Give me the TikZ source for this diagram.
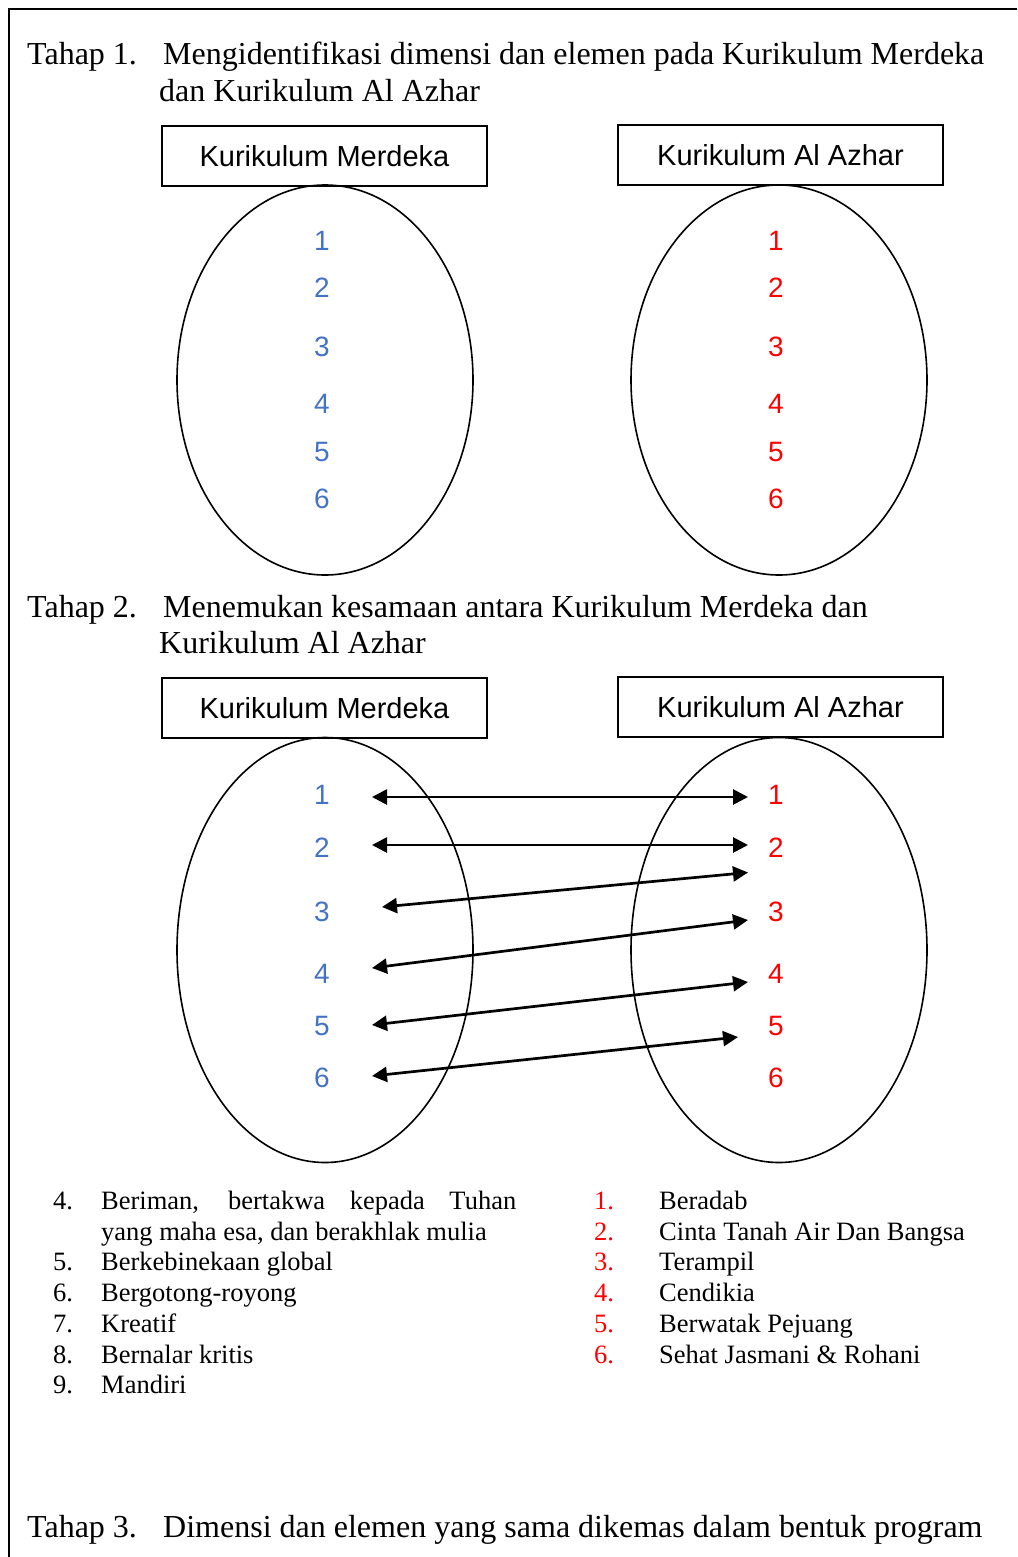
\documentclass[tikz,border=0pt]{standalone}
\usepackage{fontspec}
\setmainfont{Liberation Serif}
\newfontfamily\arial{Liberation Sans}
\usetikzlibrary{shapes.geometric,arrows.meta}
\definecolor{numblue}{HTML}{4472C4}
\definecolor{numred}{HTML}{FF0000}
\begin{document}
\begin{tikzpicture}[x=1pt,y=-1pt,
  head/.style={font=\fontsize{32}{37}\selectfont, anchor=base west, inner sep=0},
  lst/.style={font=\fontsize{26.5}{30}\selectfont, anchor=base west, inner sep=0},
  kbox/.style={draw, line width=1.6pt, minimum width=325pt, minimum height=60pt, inner sep=0, font=\arial\fontsize{29}{34}\selectfont},
  ell/.style={draw, ellipse, line width=1.6pt, minimum width=296pt, inner sep=0},
  bnum/.style={font=\arial\fontsize{28}{32}\selectfont, text=numblue, inner sep=0},
  rnum/.style={font=\arial\fontsize{28}{32}\selectfont, text=numred, inner sep=0},
  link/.style={line width=2.7pt, {Triangle[length=15pt,width=15pt]}-{Triangle[length=15pt,width=15pt]}}]
\useasboundingbox (0,0) rectangle (1017,1557);
\draw[line width=2pt] (9,1557) -- (9,9) -- (1017,9);

% Tahap 1
\node[head] (t1a) at (27,65) {Tahap 1.};
\node[head] (t1b) at (163,65) {Mengidentifikasi dimensi dan elemen pada Kurikulum Merdeka};
\node[head] (t1c) at (159,102) {dan Kurikulum Al Azhar};

\node[ell, minimum height=390pt] (e1) at (325,380) {};
\node[ell, minimum height=390pt] (e2) at (779,380) {};
\node[kbox] (b1) at (324.5,156) {Kurikulum Merdeka};
\node[kbox] (b2) at (780.5,155) {Kurikulum Al Azhar};

\foreach \i/\y in {1/241,2/288,3/347,4/404,5/452,6/499}{
  \node[bnum] (p\i) at (322,\y) {\i};
  \node[rnum] (q\i) at (776,\y) {\i};
}

% Tahap 2
\node[head] (t2a) at (27,617) {Tahap 2.};
\node[head] (t2b) at (163,617) {Menemukan kesamaan antara Kurikulum Merdeka dan};
\node[head] (t2c) at (159,653) {Kurikulum Al Azhar};

\node[ell, minimum height=425pt] (e3) at (325,950) {};
\node[ell, minimum height=425pt] (e4) at (779,950) {};
\node[kbox] (b3) at (324.5,708) {Kurikulum Merdeka};
\node[kbox] (b4) at (780.5,707) {Kurikulum Al Azhar};

\foreach \i/\y in {1/795,2/848,3/912,4/974,5/1026,6/1078}{
  \node[bnum] (m\i) at (322,\y) {\i};
  \node[rnum] (a\i) at (776,\y) {\i};
}

\coordinate (L1) at (372,797);
\coordinate (R1) at (748,797);
\coordinate (L2) at (372,845);
\coordinate (R2) at (748,845);
\coordinate (L3) at (382,907);
\coordinate (R3) at (748,872.5);
\coordinate (L4) at (372,968);
\coordinate (R4) at (748,920);
\coordinate (L5) at (372,1025);
\coordinate (R5) at (748,982);
\coordinate (L6) at (372,1076);
\coordinate (R6) at (738,1037);
\foreach \i in {1,...,6}{\draw[link] (L\i) -- (R\i);}

% Lists
\node[lst] (n4) at (53,1209.5) {4.};
\node[lst] (d4) at (101,1209.5) {\makebox[415pt][s]{Beriman, bertakwa kepada Tuhan}};
\node[lst] (d4b) at (101,1240.2) {yang maha esa, dan berakhlak mulia};
\node[lst] (n5) at (53,1270.9) {5.};
\node[lst] (d5) at (101,1270.9) {Berkebinekaan global};
\node[lst] (n6) at (53,1301.6) {6.};
\node[lst] (d6) at (101,1301.6) {Bergotong-royong};
\node[lst] (n7) at (53,1332.3) {7.};
\node[lst] (d7) at (101,1332.3) {Kreatif};
\node[lst] (n8) at (53,1363) {8.};
\node[lst] (d8) at (101,1363) {Bernalar kritis};
\node[lst] (n9) at (53,1393.7) {9.};
\node[lst] (d9) at (101,1393.7) {Mandiri};

\foreach \i/\t/\y in {1/Beradab/1209.5, 2/Cinta Tanah Air Dan Bangsa/1240.2, 3/Terampil/1270.9, 4/Cendikia/1301.6, 5/Berwatak Pejuang/1332.3, 6/Sehat Jasmani \& Rohani/1363}{
  \node[lst, text=numred] (r\i) at (594,\y) {\i.};
  \node[lst] (s\i) at (659,\y) {\t};
}

% Tahap 3
\node[head] (t3a) at (27,1537) {Tahap 3.};
\node[head] (t3b) at (163,1537) {Dimensi dan elemen yang sama dikemas dalam bentuk program};
\end{tikzpicture}
\end{document}
